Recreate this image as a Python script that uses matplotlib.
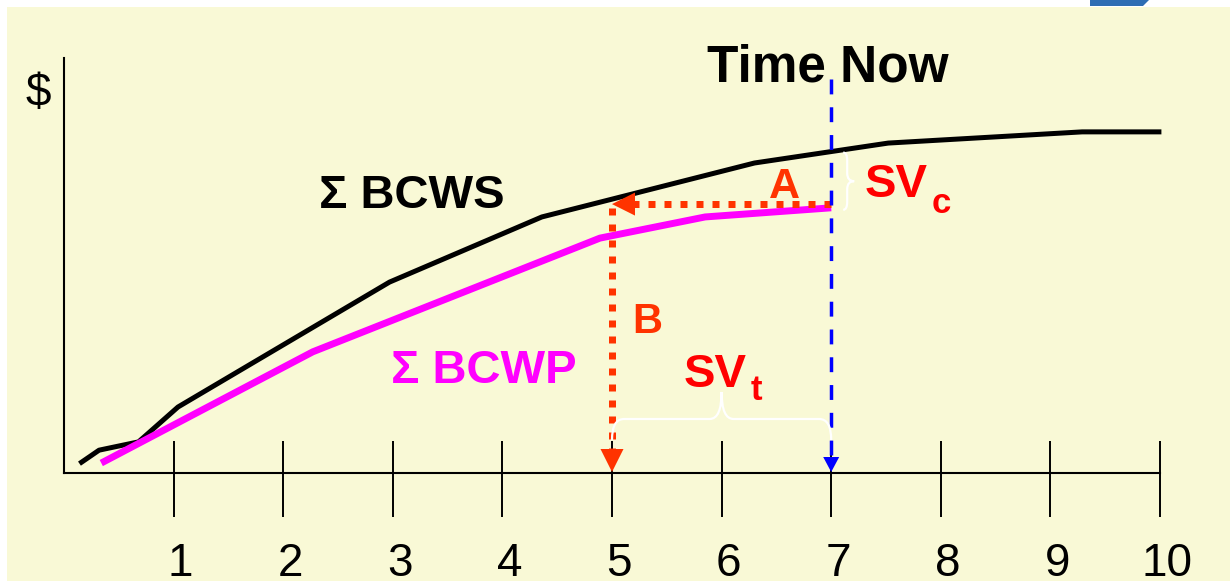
import matplotlib
matplotlib.use('Agg')
import matplotlib.pyplot as plt
from matplotlib.patches import Rectangle, Polygon, PathPatch
from matplotlib.path import Path
import matplotlib.transforms as mtransforms
import numpy as np

plt.rcParams['font.family'] = ['Liberation Sans', 'DejaVu Sans']

# ---- data ----
bcws_t = [0.16, 0.32, 0.68, 1.04, 2.97, 4.36, 6.30, 7.52, 9.29, 9.99]
bcws_v = [2.6, 5.5, 7.5, 15.9, 46.0, 61.7, 74.7, 79.5, 82.2, 82.2]
bcwp_t = [0.34, 2.27, 4.89, 5.85, 7.0]
bcwp_v = [2.4, 29.2, 56.6, 61.7, 63.9]
periods = [1, 2, 3, 4, 5, 6, 7, 8, 9, 10]
tick_labels = ['1', '2', '3', '4', '5', '6', '7', '8', '9', '10']
time_now = 7.0
earned_time = 5.0
a_level = 64.8

W, H = 1230, 581
fig = plt.figure(figsize=(W / 100, H / 100), dpi=100)
fig.patch.set_facecolor('white')
fig.patches.append(Rectangle((7 / W, 0), 1, 1 - 7 / H, transform=fig.transFigure,
                             facecolor='#F9F9D6', edgecolor='none', zorder=-10))
fig.patches.append(Polygon([(1090 / W, 1), (1149 / W, 1), (1143 / W, 1 - 6 / H), (1090 / W, 1 - 6 / H)],
                           closed=True, transform=fig.transFigure,
                           facecolor='#2E6DB4', edgecolor='none', zorder=-5))

ax = fig.add_axes([64 / W, (H - 473) / H, 1096 / W, 415 / H])
ax.set_zorder(2)
ax.set_facecolor('none')
ax.set_xlim(0, 10)
ax.set_ylim(0, 100)

SX = 1096 / 10.0   # px per x unit
SY = 415 / 100.0   # px per y unit
def dx(p):
    return p / SX
def dy(p):
    return p / SY

# spines / ticks
for s in ['top', 'right']:
    ax.spines[s].set_visible(False)
for s in ['left', 'bottom']:
    ax.spines[s].set_linewidth(1.5)
ax.set_yticks([])
ax.set_xticks(periods)
ax.set_xticklabels(tick_labels, fontsize=33)
ax.set_xticks(periods, minor=True)
ax.xaxis.remove_overlapping_locs = False
ax.tick_params(axis='x', which='major', direction='out', length=31.7, width=1.4, pad=18)
ax.tick_params(axis='x', which='minor', direction='in', length=23, width=1.4)
off = mtransforms.ScaledTranslation(0.07, 0, fig.dpi_scale_trans)
for lbl in ax.get_xticklabels():
    lbl.set_transform(lbl.get_transform() + off)

# curves
ax.plot(bcws_t, bcws_v, color='black', lw=3.6, clip_on=False, zorder=3)
ax.plot(bcwp_t, bcwp_v, color='#FF00FF', lw=5.0, clip_on=False, zorder=3,
        solid_capstyle='butt')

orange = '#FF3300'
# A arrow (horizontal, dotted)
ax.plot([time_now, earned_time + dx(22)], [a_level, a_level], color=orange, lw=5.04,
        dashes=(1, 9 / 7), dash_capstyle='butt', clip_on=False, zorder=4)
ax.add_patch(Polygon([(earned_time, a_level),
                      (earned_time + dx(23), a_level + dy(11.5)),
                      (earned_time + dx(23), a_level - dy(11.5))],
                     closed=True, facecolor=orange, edgecolor='none', zorder=4, clip_on=False))
# B arrow (vertical, dotted)
ax.plot([earned_time, earned_time], [a_level - dy(3.5), dy(24)], color=orange, lw=5.04,
        dashes=(1, 9 / 7), dash_capstyle='butt', clip_on=False, zorder=4)
ax.add_patch(Polygon([(earned_time, dy(1)),
                      (earned_time - dx(11.5), dy(24)),
                      (earned_time + dx(11.5), dy(24))],
                     closed=True, facecolor=orange, edgecolor='none', zorder=4, clip_on=False))

# Time Now dashed line
blue = '#0000FF'
ax.plot([time_now, time_now], [dy(473 - 79), dy(16)], color=blue, lw=2.5,
        dashes=(15 / 3.5, 13 / 3.5), dash_capstyle='butt', clip_on=False, zorder=5)
ax.add_patch(Polygon([(time_now, dy(1)),
                      (time_now - dx(8), dy(16)),
                      (time_now + dx(8), dy(16))],
                     closed=True, facecolor=blue, edgecolor='none', zorder=5, clip_on=False))


def brace(p0, p1, nvec, d1, d2, r, **kw):
    """Curly brace from p0 to p1 (data coords); geometry in pixels."""
    x0, y0 = p0[0] * SX, p0[1] * SY
    x1, y1 = p1[0] * SX, p1[1] * SY
    L = np.hypot(x1 - x0, y1 - y0)
    u = np.array([(x1 - x0) / L, (y1 - y0) / L])
    n = np.array(nvec, dtype=float)
    local = [(0, 0), (0, d1), (r, d1), (L / 2 - r, d1), (L / 2, d1), (L / 2, d1 + d2),
             (L / 2, d1), (L / 2 + r, d1), (L - r, d1), (L, d1), (L, 0)]
    codes = [Path.MOVETO, Path.CURVE3, Path.CURVE3, Path.LINETO, Path.CURVE3, Path.CURVE3,
             Path.CURVE3, Path.CURVE3, Path.LINETO, Path.CURVE3, Path.CURVE3]
    verts = []
    for s, t in local:
        px = x0 + s * u[0] + t * n[0]
        py = y0 + s * u[1] + t * n[1]
        verts.append((px / SX, py / SY))
    ax.add_patch(PathPatch(Path(verts, codes), facecolor='none', clip_on=False, **kw))

# SVc brace (vertical, cusp to the right)
top_c = np.interp(time_now, bcws_t, bcws_v) - dy(1)
brace((time_now + dx(12), top_c), (time_now + dx(12), bcwp_v[-1] - dy(2)), (1, 0),
      4, 7, 8, edgecolor='white', lw=1.6, zorder=6)
# SVt brace (horizontal, cusp up)
brace((earned_time, dy(33)), (time_now, dy(33)), (0, 1),
      21, 27, 12, edgecolor='white', lw=1.6, zorder=6)

# texts
ax.text(dx(828 - 64), dy(473 - 81), 'Time Now', fontsize=37, fontweight='bold',
        ha='center', va='baseline', color='black', clip_on=False, zorder=7)
ax.text(dx(38 - 64), dy(473 - 106), '$', fontsize=33, ha='center', va='baseline',
        color='black', clip_on=False)
ax.text(dx(319 - 64), dy(473 - 208), 'Σ BCWS', fontsize=34, fontweight='bold',
        ha='left', va='baseline', color='black')
ax.text(dx(391 - 64), dy(473 - 383), 'Σ BCWP', fontsize=34, fontweight='bold',
        ha='left', va='baseline', color='#FF00FF')
ax.text(dx(784 - 64), dy(473 - 198), 'A', fontsize=31, fontweight='bold',
        ha='center', va='baseline', color=orange)
ax.text(dx(647 - 64), dy(473 - 333), 'B', fontsize=30, fontweight='bold',
        ha='center', va='baseline', color=orange)
red = '#FF0000'
ax.text(dx(865 - 64), dy(473 - 197), 'SV', fontsize=34, fontweight='bold',
        ha='left', va='baseline', color=red)
ax.text(dx(932 - 64), dy(473 - 213), 'c', fontsize=25, fontweight='bold',
        ha='left', va='baseline', color=red)
ax.text(dx(684 - 64), dy(473 - 387), 'SV', fontsize=34, fontweight='bold',
        ha='left', va='baseline', color=red)
ax.text(dx(751 - 64), dy(473 - 400), 't', fontsize=25, fontweight='bold',
        ha='left', va='baseline', color=red)

fig.savefig('out.png', dpi=100, facecolor=fig.get_facecolor())
